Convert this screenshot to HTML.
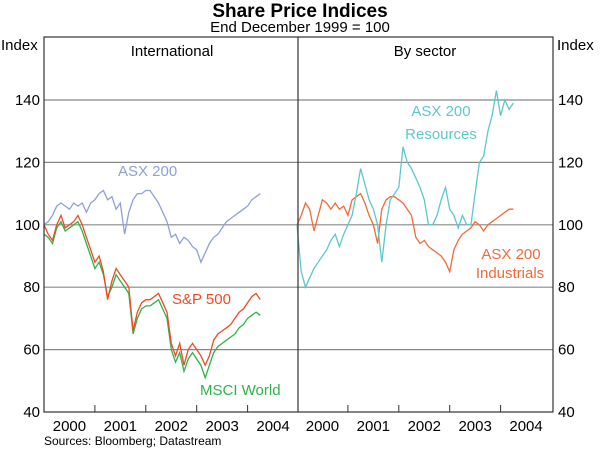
<!DOCTYPE html>
<html><head><meta charset="utf-8"><style>
body{margin:0;background:#fff;font-family:"Liberation Sans",sans-serif}
svg text{font-family:"Liberation Sans",sans-serif}
</style></head><body>
<svg id="c" width="600" height="453" viewBox="0 0 600 453">
<text x="300" y="17" text-anchor="middle" font-size="19" font-weight="bold">Share Price Indices</text>
<text x="300" y="32" text-anchor="middle" font-size="15">End December 1999 = 100</text>
<text x="1" y="50" font-size="15">Index</text>
<text x="557" y="50" font-size="15">Index</text>
<text x="172" y="56" text-anchor="middle" font-size="15">International</text>
<text x="425" y="56" text-anchor="middle" font-size="15">By sector</text>
<g id="grid"></g><g id="series"></g>
<rect x="44" y="37" width="509" height="375" fill="none" stroke="#333" stroke-width="1.2"/>
<line x1="298" y1="37" x2="298" y2="412" stroke="#333" stroke-width="1.2"/>
<text x="118" y="176" fill="#8fa0d8" font-size="15">ASX 200</text>
<text x="172" y="304" fill="#f04a23" font-size="15">S&amp;P 500</text>
<text x="200" y="395" fill="#2db34a" font-size="15">MSCI World</text>
<text x="441" y="116" text-anchor="middle" fill="#5cc8cc" font-size="15">ASX 200</text>
<text x="441" y="139" text-anchor="middle" fill="#5cc8cc" font-size="15">Resources</text>
<text x="511" y="259" text-anchor="middle" fill="#f26a3a" font-size="15">ASX 200</text>
<text x="510" y="278" text-anchor="middle" fill="#f26a3a" font-size="15">Industrials</text>
<text x="44" y="445" font-size="12">Sources: Bloomberg; Datastream</text>
</svg>
<script>
const yTicks=[40,60,80,100,120,140];
const years=["2000","2001","2002","2003","2004"];
const asx200=[100,101,103,106,107,106,105,107,106,107,104,107,108,110,111,108,109,105,107,97,104,108,110,110,111,111,109,107,104,101,96,97,94,96,95,93,92,88,91,94,96,97,99,101,102,103,104,105,106,108,109,110];
const sp500=[100,97,95,100,103,99,100,101,103,100,96,92,88,90,85,76,82,86,84,82,80,66,72,75,76,76,77,78,75,72,62,58,62,55,60,62,60,58,55,58,63,65,66,67,68,70,72,73,75,77,78,76];
const msci=[97,96,94,99,101,98,99,100,101,98,94,90,86,88,84,77,80,84,82,80,78,65,70,73,74,74,75,76,73,70,60,56,59,53,57,59,57,55,51,55,59,61,62,63,64,65,67,68,70,71,72,71];
const resources=[100,85,80,83,86,88,90,92,95,97,93,97,100,103,110,118,113,108,105,100,88,100,108,110,112,125,120,118,115,112,108,100,100,103,108,112,105,103,99,103,100,100,110,120,122,130,135,143,135,140,137,139];
const industrials=[100,103,107,105,98,103,108,107,105,107,105,106,103,108,109,110,107,103,100,94,105,108,109,109,108,107,105,103,96,94,95,93,92,91,90,88,85,92,95,97,98,99,101,100,98,100,101,102,103,104,105,105];
const NS="http://www.w3.org/2000/svg";
const yScale=v=>412-(v-40)*3.12;
const xL=i=>44+i/12*50.9, xR=i=>297+i/12*50.9;
const g=document.getElementById('grid'), s=document.getElementById('series');
function mk(tag,attrs,parent){const e=document.createElementNS(NS,tag);for(const k in attrs)e.setAttribute(k,attrs[k]);parent.appendChild(e);return e;}
yTicks.forEach(v=>{
 if(v>40&&v<160){const l=mk('line',{x1:44,x2:553,y1:yScale(v),y2:yScale(v),stroke:'#888','stroke-width':1.2},g);
 
 }
 const t1=mk('text',{x:40,y:yScale(v)+5,'text-anchor':'end','font-size':15},g);t1.textContent=v;
 
 
 const t2=mk('text',{x:558,y:yScale(v)+5,'font-size':15},g);t2.textContent=v;
 
 
});
years.forEach((y,k)=>{
 [[xL,'left'],[xR,'right']].forEach(([fx,side])=>{
  if(k>0){const tk=mk('line',{x1:fx(k*12),x2:fx(k*12),y1:412,y2:405,stroke:'#333'},g);
  
  }
  const t=mk('text',{x:fx(k*12+6),y:431,'text-anchor':'middle','font-size':15},g);t.textContent=y;
  
  
 });
});
function line(data,fx,color,name){
 const d=data.map((v,i)=>(i?'L':'M')+fx(i).toFixed(1)+','+yScale(v).toFixed(1)).join('');
 const p=mk('path',{d:d,fill:'none',stroke:color,'stroke-width':1.3},s);
 
 
}
line(asx200,xL,'#8fa0d8','asx200-line');
line(msci,xL,'#2db34a','msci-world-line');
line(sp500,xL,'#f04a23','sp500-line');
line(industrials,xR,'#f26a3a','industrials-line');
line(resources,xR,'#5cc8cc','resources-line');
</script>
</body></html>
